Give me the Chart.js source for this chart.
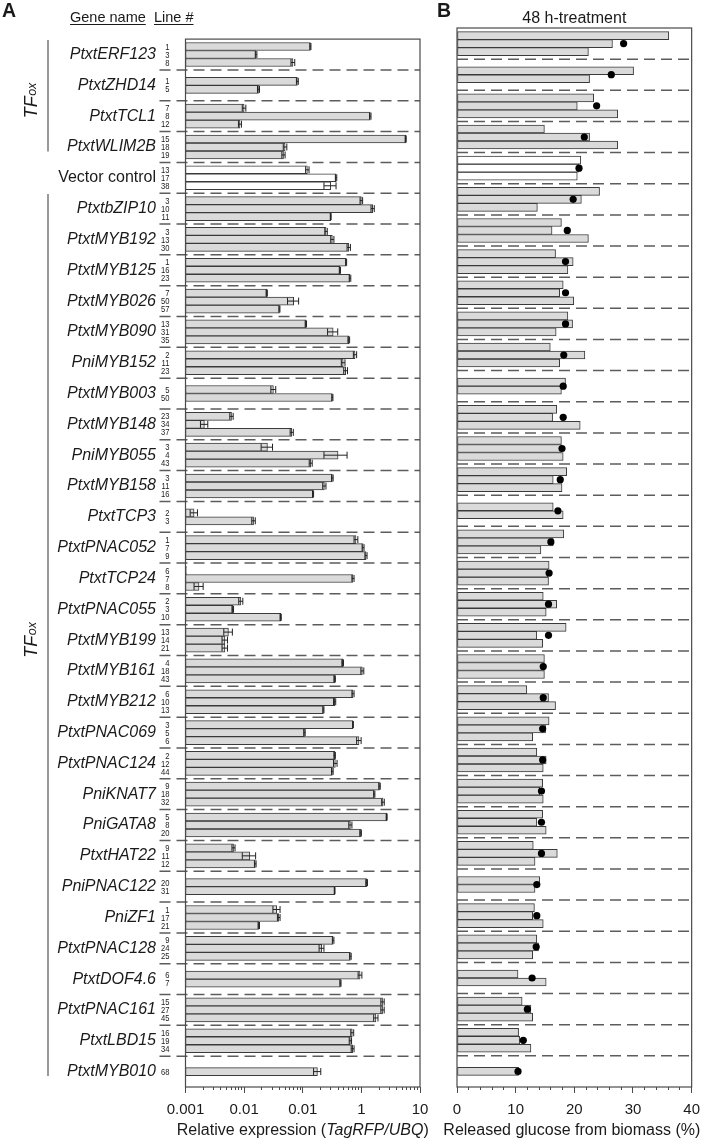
<!DOCTYPE html>
<html>
<head>
<meta charset="utf-8">
<title>TF overexpression lines</title>
<script src="https://cdn.jsdelivr.net/npm/chart.js"></script>
<style>
html,body{margin:0;padding:0;background:#ffffff;}
#wrap{position:relative;width:708px;height:1145px;overflow:hidden;background:#ffffff;}
canvas{position:absolute;top:0;}
#cA{left:0;width:440px;height:1145px;}
#cB{left:430px;width:278px;height:1145px;}
</style>
</head>
<body>
<div id="wrap">
<canvas id="cA" width="440" height="1145"></canvas>
<canvas id="cB" width="278" height="1145"></canvas>
</div>
<script>
// ---------------- data ----------------
const genes = ["PtxtERF123","PtxtZHD14","PtxtTCL1","PtxtWLIM2B","Vector control","PtxtbZIP10","PtxtMYB192","PtxtMYB125","PtxtMYB026","PtxtMYB090","PniMYB152","PtxtMYB003","PtxtMYB148","PniMYB055","PtxtMYB158","PtxtTCP3","PtxtPNAC052","PtxtTCP24","PtxtPNAC055","PtxtMYB199","PtxtMYB161","PtxtMYB212","PtxtPNAC069","PtxtPNAC124","PniKNAT7","PniGATA8","PtxtHAT22","PniPNAC122","PniZF1","PtxtPNAC128","PtxtDOF4.6","PtxtPNAC161","PtxtLBD15","PtxtMYB010"];

const lineNumbers = [[1,3,8],[1,5],[7,8,12],[15,18,19],[13,17,38],[3,10,11],[3,13,30],[1,16,23],[7,50,57],[13,31,35],[2,11,23],[5,50],[23,34,37],[3,4,43],[3,11,16],[2,3],[1,7,9],[6,7,8],[2,3,10],[13,14,21],[4,18,43],[6,10,13],[3,5,6],[2,12,44],[9,18,32],[5,8,20],[9,11,12],[20,31],[1,17,21],[9,24,25],[6,7],[15,27,45],[16,19,34],[68]];

// Relative expression (TagRFP/UBQ)
const expression = [[0.135,0.016,0.068],[0.081,0.0176],[0.010,1.42,0.0085],[5.7,0.050,0.047],[0.12,0.37,0.30],[1.0,1.56,0.30],[0.25,0.32,0.61],[0.55,0.43,0.64],[0.0243,0.070,0.040],[0.113,0.33,0.61],[0.78,0.49,0.54],[0.0316,0.32],[0.0061,0.0021,0.065],[0.025,0.40,0.137],[0.32,0.234,0.15],[0.0014,0.0145],[0.81,1.07,1.2],[0.00104,0.72,0.0017],[0.0088,0.0064,0.042],[0.0054,0.0047,0.0047],[0.48,1.04,0.35],[0.72,0.35,0.225],[0.72,0.107,0.91],[0.35,0.36,0.32],[2.04,1.66,2.34],[2.7,0.65,0.97],[0.0066,0.0125,0.0155],[1.23,0.35],[0.036,0.039,0.0178],[0.33,0.21,0.65],[0.95,0.44],[2.3,2.3,1.77],[0.70,0.65,0.71],[0.178]];

const expressionSE = [[0.003,0.0005,0.005],[0.003,0.0007],[0.0007,0.04,0.0005],[0.12,0.0035,0.003],[0.008,0.01,0.07],[0.05,0.1,0.005],[0.012,0.02,0.04],[0.01,0.01,0.02],[0.0006,0.015,0.0008],[0.003,0.065,0.02],[0.05,0.035,0.04],[0.003,0.007],[0.0004,0.0003,0.004],[0.0055,0.17,0.008],[0.01,0.015,0.003],[0.0002,0.001],[0.06,0.04,0.05],[0,0.03,0.0003],[0.0007,0.0002,0.001],[0.0009,0.0005,0.0005],[0.015,0.06,0.01],[0.03,0.015,0.005],[0.01,0.003,0.08],[0.01,0.025,0.01],[0.06,0.04,0.12],[0.05,0.04,0.03],[0.0004,0.0032,0.0005],[0.04,0.005],[0.005,0.002,0.0005],[0.01,0.02,0.02],[0.07,0.01],[0.15,0.15,0.15],[0.04,0.03,0.04],[0.025]];

// Released glucose from biomass (%), 48 h-treatment
const glucose = [[36.1,26.5,22.4],[30.1,22.6],[23.3,20.5,27.4],[14.9,22.6,27.4],[21.1,20.8,20.5],[24.3,21.2,13.7],[17.8,16.2,22.4],[16.8,19.8,18.9],[18.1,17.5,19.9],[18.9,19.7,16.9],[15.9,21.8,17.5],[18.5,17.8],[17.0,16.3,21.0],[17.8,17.8,18.1],[18.7,16.4,17.9],[16.4,18.1],[18.2,16.4,14.3],[15.7,15.5,15.6],[14.7,17.0,15.2],[18.6,13.6,14.6],[14.9,14.9,14.9],[11.9,15.6,16.8],[15.7,15.1,12.9],[13.6,15.2,14.7],[14.6,14.1,14.7],[14.6,13.6,15.2],[13.0,17.1,13.3],[14.1,13.3],[13.2,12.9,14.7],[13.6,13.9,12.9],[10.4,15.2],[11.1,12.6,12.9],[10.5,10.7,12.6],[10.5]];

const glucoseMean = [28.4,26.3,23.8,21.7,20.8,19.8,18.8,18.5,18.5,18.5,18.2,18.1,18.1,17.9,17.6,17.2,16.0,15.7,15.6,15.6,14.7,14.7,14.6,14.6,14.4,14.4,14.4,13.6,13.6,13.5,12.8,12.0,11.3,10.4];

const ticksA = [0.001,0.01,0.1,1,10];
const tickLabelsA = ["0.001","0.01","0.01","1","10"];
const ticksB = [0,10,20,30,40];
const tickLabelsB = ["0","10","20","30","40"];
const minorTicksA = [];
for (let e = -3; e < 1; e++) for (let m = 2; m <= 9; m++) minorTicksA.push(Number((m * Math.pow(10, e)).toPrecision(2)));
const minorTicksB = [];
for (let v = 2; v < 40; v += 2) if (v % 10) minorTicksB.push(v);

const headerGene = "Gene name", headerLine = "Line #";
const titleB = "48 h-treatment";
const axisTitleA = [["Relative expression (", "normal"], ["TagRFP/UBQ", "italic"], [")", "normal"]];
const axisTitleB = "Released glucose from biomass (%)";
const groupLabel = ["TF", "ox"];
const controlName = "Vector control";

// ---------------- style / layout ----------------
const FONT = "'Liberation Sans', Arial, Helvetica, sans-serif";
const INK = '#1a1a1a', AXIS = '#4a4a4a', DASH = '#5c5c5c', BAR_FILL = '#dadada', BAR_EDGE = '#3a3a3a';
const PLOT_TOP = 28, PLOT_BOTTOM = 1087, PAGE_H = 1145;
const A_W = 440, A_LEFT = 185.5, A_RIGHT = 420;
const B_OFF = 430, B_W = 278, B_LEFT = 457, B_RIGHT = 692;

const slot = (arr, s) => arr.map(g => (g[s] === undefined ? null : g[s]));
const fills = genes.map(g => g === controlName ? '#ffffff' : BAR_FILL);

function barDatasets(values, extra) {
  return [0, 1, 2].map(s => Object.assign({
    type: 'bar', label: 'line ' + (s + 1), data: slot(values, s),
    backgroundColor: fills, borderColor: BAR_EDGE, borderWidth: 1, borderSkipped: false,
    barThickness: 8, skipNull: true, xAxisID: 'x', yAxisID: 'y', order: 1
  }, extra ? extra(s) : {}));
}

function majorAxis(type, min, max, values, labels) {
  return {
    type, position: 'bottom', min, max, weight: 1,
    afterBuildTicks: s => { s.ticks = values.map(v => ({ value: v })); },
    ticks: { callback: (v, i) => labels[i], autoSkip: false, maxRotation: 0, minRotation: 0, padding: 8, color: INK, font: { family: FONT, size: 15 } },
    grid: { drawOnChartArea: false, drawTicks: true, tickLength: 6, color: AXIS, tickColor: AXIS, lineWidth: 1 },
    border: { display: false },
    afterFit: s => { s.height = PAGE_H - PLOT_BOTTOM; }
  };
}
function minorAxis(type, min, max, values) {
  return {
    type, position: 'bottom', axis: 'x', min, max, weight: 0,
    afterBuildTicks: s => { s.ticks = values.map(v => ({ value: v })); },
    ticks: { display: false },
    grid: { drawOnChartArea: false, drawTicks: true, tickLength: 3, color: AXIS, tickColor: AXIS, lineWidth: 1 },
    border: { display: false },
    afterFit: s => { s.height = 0; }
  };
}

function separatorPlugin(leftExtend) {
  return {
    id: 'separators',
    beforeDatasetsDraw(chart) {
      const { ctx, chartArea: ca, scales: { y } } = chart;
      ctx.save();
      ctx.strokeStyle = DASH; ctx.lineWidth = 1.5; ctx.setLineDash([11, 6]);
      for (let i = 1; i < genes.length; i++) {
        const yy = (y.getPixelForValue(i - 1) + y.getPixelForValue(i)) / 2;
        ctx.beginPath(); ctx.moveTo(ca.left - leftExtend, yy); ctx.lineTo(ca.right, yy); ctx.stroke();
      }
      ctx.restore();
    }
  };
}
const framePlugin = {
  id: 'frame',
  afterDatasetsDraw(chart) {
    const { ctx, chartArea: ca } = chart;
    ctx.save(); ctx.strokeStyle = AXIS; ctx.lineWidth = 1.2;
    ctx.strokeRect(ca.left, ca.top, ca.right - ca.left, ca.bottom - ca.top);
    ctx.restore();
  }
};
const errorPlugin = {
  id: 'errorBars',
  afterDatasetsDraw(chart) {
    const { ctx, scales: { x } } = chart;
    ctx.save(); ctx.strokeStyle = '#222'; ctx.lineWidth = 1;
    chart.data.datasets.forEach((ds, di) => {
      if (!ds.se) return;
      chart.getDatasetMeta(di).data.forEach((el, j) => {
        const v = ds.data[j], e = ds.se[j];
        if (v == null || !e) return;
        const xl = x.getPixelForValue(Math.max(v - e, x.min)), xr = x.getPixelForValue(v + e), yy = el.y;
        ctx.beginPath();
        ctx.moveTo(xl, yy); ctx.lineTo(xr, yy);
        ctx.moveTo(xl, yy - 3.5); ctx.lineTo(xl, yy + 3.5);
        ctx.moveTo(xr, yy - 3.5); ctx.lineTo(xr, yy + 3.5);
        ctx.stroke();
      });
    });
    ctx.restore();
  }
};

const annotA = {
  id: 'annotA',
  afterDraw(chart) {
    const { ctx, chartArea: ca, scales: { y } } = chart;
    ctx.save();
    ctx.fillStyle = INK; ctx.textAlign = 'left'; ctx.textBaseline = 'alphabetic';
    ctx.font = `bold 19.5px ${FONT}`; ctx.fillText('A', 2, 17);
    ctx.font = `14.5px ${FONT}`;
    [[headerGene, 70], [headerLine, 154]].forEach(([t, xx]) => {
      ctx.fillText(t, xx, 22);
      ctx.fillRect(xx, 24, ctx.measureText(t).width, 1);
    });
    // line numbers beside each bar
    chart.data.datasets.forEach((ds, di) => {
      const s = ds.slotIndex;
      chart.getDatasetMeta(di).data.forEach((el, j) => {
        if (ds.data[j] == null) return;
        ctx.save();
        ctx.translate(169.5, el.y + 0.5); ctx.scale(0.8, 1.0);
        ctx.font = `9.5px ${FONT}`; ctx.textAlign = 'right'; ctx.textBaseline = 'middle';
        ctx.fillText(String(lineNumbers[j][s]), 0, 0);
        ctx.restore();
      });
    });
    // TFox brackets
    const vc = genes.indexOf(controlName);
    const ranges = [[0, vc - 1], [vc + 1, genes.length - 1]];
    ctx.strokeStyle = '#777'; ctx.lineWidth = 1.5;
    ranges.forEach(([a, b]) => {
      const y0 = y.getPixelForValue(a) - 14.5, y1 = y.getPixelForValue(b) + 4.5;
      ctx.beginPath(); ctx.moveTo(48, y0); ctx.lineTo(48, y1); ctx.stroke();
      const cy = (y.getPixelForValue(a) + y.getPixelForValue(b)) / 2;
      ctx.save();
      ctx.translate(37, cy); ctx.rotate(-Math.PI / 2);
      ctx.font = `italic 18px ${FONT}`;
      const w1 = ctx.measureText(groupLabel[0]).width;
      ctx.font = `italic 12.5px ${FONT}`;
      const w2 = ctx.measureText(groupLabel[1]).width;
      const x0 = -(w1 + w2) / 2;
      ctx.textAlign = 'left'; ctx.textBaseline = 'alphabetic';
      ctx.font = `italic 18px ${FONT}`; ctx.fillText(groupLabel[0], x0, 0);
      ctx.font = `italic 12.5px ${FONT}`; ctx.fillText(groupLabel[1], x0 + w1 + 0.5, -1.5);
      ctx.restore();
    });
    // axis title with mixed styles
    ctx.textBaseline = 'middle'; ctx.textAlign = 'left';
    let total = 0;
    axisTitleA.forEach(([t, st]) => { ctx.font = `${st} 16px ${FONT}`; total += ctx.measureText(t).width; });
    let xx = (ca.left + ca.right) / 2 - total / 2;
    axisTitleA.forEach(([t, st]) => { ctx.font = `${st} 16px ${FONT}`; ctx.fillText(t, xx, 1131); xx += ctx.measureText(t).width; });
    ctx.restore();
  }
};

const annotB = {
  id: 'annotB',
  afterDraw(chart) {
    const { ctx, chartArea: ca } = chart;
    ctx.save();
    ctx.fillStyle = INK; ctx.textBaseline = 'alphabetic';
    ctx.textAlign = 'left'; ctx.font = `bold 19.5px ${FONT}`; ctx.fillText('B', 7, 17);
    ctx.textAlign = 'center'; ctx.font = `16px ${FONT}`;
    ctx.fillText(titleB, (ca.left + ca.right) / 2, 23);
    ctx.textBaseline = 'middle';
    ctx.fillText(axisTitleB, (ca.left + ca.right) / 2 - 2.5, 1131);
    ctx.restore();
  }
};

const common = {
  responsive: false, animation: false, indexAxis: 'y', events: [],
  plugins: { legend: { display: false }, tooltip: { enabled: false } }
};

// ---------------- panel A ----------------
new Chart(document.getElementById('cA'), {
  type: 'bar',
  data: {
    labels: genes,
    datasets: barDatasets(expression, s => ({ se: slot(expressionSE, s), slotIndex: s }))
  },
  options: Object.assign({}, common, {
    layout: { padding: { top: PLOT_TOP, right: A_W - A_RIGHT, bottom: 0, left: 0 } },
    scales: {
      y: {
        type: 'category', position: 'left', offset: true,
        grid: { display: false, drawTicks: false }, border: { display: false },
        ticks: {
          autoSkip: false, padding: A_LEFT - 156, color: INK,
          font: c => ({ family: FONT, size: 16, style: (c.tick && c.tick.label === controlName) ? 'normal' : 'italic' })
        },
        afterFit: s => { s.width = A_LEFT; }
      },
      xMinor: minorAxis('logarithmic', 0.001, 10, minorTicksA),
      x: majorAxis('logarithmic', 0.001, 10, ticksA, tickLabelsA)
    }
  }),
  plugins: [separatorPlugin(26), errorPlugin, framePlugin, annotA]
});

// ---------------- panel B ----------------
new Chart(document.getElementById('cB'), {
  type: 'bar',
  data: {
    labels: genes,
    datasets: [{
      type: 'line', label: 'mean', data: glucoseMean, xAxisID: 'x', yAxisID: 'y',
      showLine: false, pointRadius: 3.6, pointHoverRadius: 3.6, pointBackgroundColor: '#000',
      pointBorderColor: '#000', pointBorderWidth: 0, order: 0
    }].concat(barDatasets(glucose))
  },
  options: Object.assign({}, common, {
    layout: { padding: { top: PLOT_TOP, right: B_W - (B_RIGHT - B_OFF), bottom: 0, left: B_LEFT - B_OFF } },
    scales: {
      y: { type: 'category', offset: true, display: false },
      xMinor: minorAxis('linear', 0, 40, minorTicksB),
      x: majorAxis('linear', 0, 40, ticksB, tickLabelsB)
    }
  }),
  plugins: [separatorPlugin(0), framePlugin, annotB]
});
</script>
</body>
</html>
